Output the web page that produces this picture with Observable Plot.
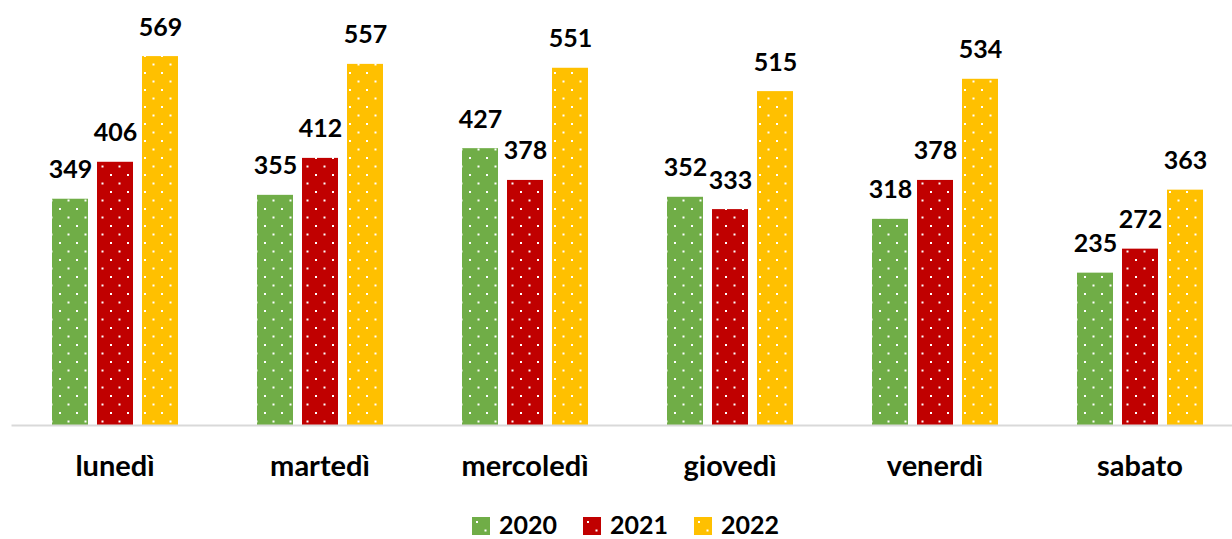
<!DOCTYPE html>
<html>
<head>
<meta charset="utf-8">
<script src="https://cdn.jsdelivr.net/npm/d3@7"></script>
<script src="https://cdn.jsdelivr.net/npm/@observablehq/plot@0.6"></script>
<style>
  body { margin: 0; background: #fff; color: #000; font-family: Lato, sans-serif; overflow: hidden; }
  #chart { width: 1232px; }
  g[aria-label="fx-axis tick label"] { font-size: 29px; font-weight: bold; }
  #legend { box-sizing: border-box; height: 39px; padding-top: 9px; display: flex; align-items: center; padding-left: 472px; font-weight: bold; font-size: 25px; line-height: 30px; }
  .item { display: flex; align-items: center; margin-right: 26px; height: 30px; }
  .item svg { margin-right: 9px; margin-top: 3px; }
</style>
</head>
<body>
<svg width="0" height="0" style="position:absolute">
  <defs id="defs"></defs>
</svg>
<div id="chart"></div>
<div id="legend"></div>
<script>
const days = ["lunedì", "martedì", "mercoledì", "giovedì", "venerdì", "sabato"];
const years = ["2020", "2021", "2022"];
const v2020 = [349, 355, 427, 352, 318, 235];
const v2021 = [406, 412, 378, 333, 378, 272];
const v2022 = [569, 557, 551, 515, 534, 363];
const colors = ["#70AD47", "#C00000", "#FFC000"];

const series = [v2020, v2021, v2022];
const data = days.flatMap((d, i) => years.map((y, j) => ({day: d, year: y, value: series[j][i]})));

// dotted fill patterns
const defs = d3.select("#defs");
years.forEach((y, j) => {
  const p = defs.append("pattern").attr("id", "p" + y)
    .attr("patternUnits", "userSpaceOnUse").attr("width", 17).attr("height", 17);
  p.append("rect").attr("width", 17).attr("height", 17).attr("fill", colors[j]);
  p.append("rect").attr("x", 4).attr("y", 4).attr("width", 2).attr("height", 2).attr("fill", "#fff");
  p.append("rect").attr("x", 12.5).attr("y", 12.5).attr("width", 2).attr("height", 2).attr("fill", "#fff");
});

const chart = Plot.plot({
  width: 1232,
  height: 500,
  marginLeft: 10,
  marginRight: 0,
  marginTop: 36,
  marginBottom: 75,
  style: {fontFamily: "Lato", background: "#fff", color: "#000"},
  fx: {domain: days, range: [10, 1244], paddingInner: 0.35, paddingOuter: 0.179, label: null, tickSize: 0, tickPadding: 30, axis: "bottom"},
  x: {domain: years, paddingInner: 0.21, paddingOuter: 0.07, axis: null},
  y: {domain: [0, 600], axis: null},
  color: {domain: years, range: years.map(y => `url(#p${y})`)},
  marks: [
    Plot.barY(data, {fx: "day", x: "year", y: "value", fill: "year"}),
    Plot.text(data, {fx: "day", x: "year", y: "value", text: d => String(d.value), dy: -29, fontSize: 25, fontWeight: "bold", fill: "#000"}),
    Plot.frame({anchor: "bottom", stroke: "#D9D9D9", strokeWidth: 2, facet: "super", insetLeft: -36, insetRight: -30})
  ]
});
document.getElementById("chart").appendChild(chart);

const legend = d3.select("#legend");
years.forEach(y => {
  const it = legend.append("div").attr("class", "item");
  const s = it.append("svg").attr("width", 18).attr("height", 18);
  s.append("rect").attr("width", 18).attr("height", 18).attr("fill", `url(#p${y})`);
  it.append("span").text(y);
});
</script>
</body>
</html>
